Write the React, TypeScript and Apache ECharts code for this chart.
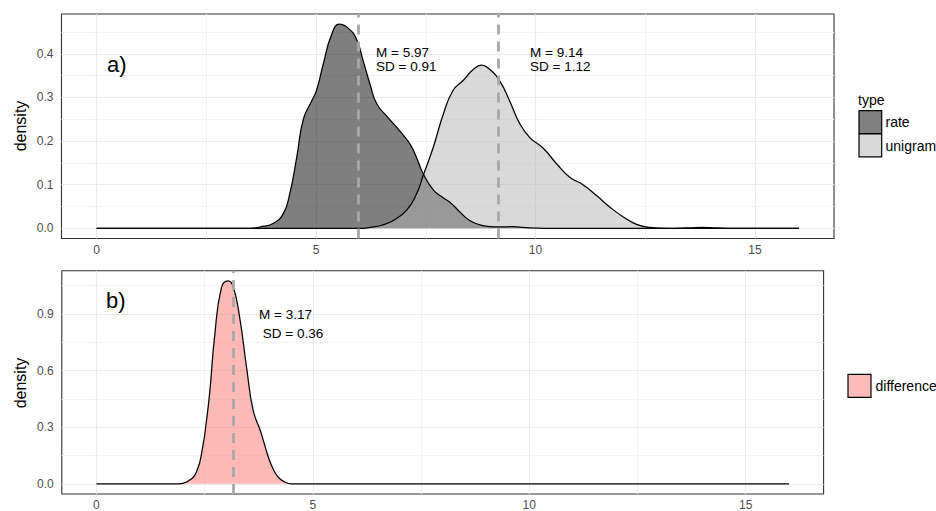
import React, { useEffect, useRef } from "react";
import * as echarts from "echarts";

const FONT = "'Liberation Sans', Arial, Helvetica, sans-serif";

// ---- data ----
const rateX = [0, 3.5, 3.72, 4.02, 4.25, 4.4, 4.56, 4.71, 4.9, 5.01, 5.16, 5.35, 5.53, 5.73, 5.92, 6.07, 6.23, 6.38, 6.61, 6.91, 7.14, 7.29, 7.44, 7.67, 7.88, 8.08, 8.28, 8.5, 8.73, 8.96, 9.2, 9.45, 9.7, 10.2, 16];
const rateY = [0, 0, 0.003, 0.011, 0.033, 0.079, 0.163, 0.25, 0.292, 0.316, 0.375, 0.443, 0.468, 0.459, 0.434, 0.385, 0.33, 0.286, 0.257, 0.223, 0.193, 0.162, 0.125, 0.088, 0.071, 0.057, 0.037, 0.018, 0.008, 0.004, 0.003, 0.004, 0.002, 0, 0];

const unigramX = [0, 6.0, 6.23, 6.5, 6.76, 7.06, 7.29, 7.44, 7.67, 7.9, 8.12, 8.35, 8.58, 8.77, 8.96, 9.19, 9.41, 9.64, 9.87, 10.17, 10.48, 10.78, 11.08, 11.39, 11.69, 12.0, 12.3, 12.6, 13.0, 13.5, 13.8, 14.1, 14.5, 16];
const unigramY = [0, 0, 0.002, 0.007, 0.018, 0.041, 0.079, 0.121, 0.186, 0.262, 0.316, 0.339, 0.364, 0.374, 0.364, 0.337, 0.292, 0.24, 0.208, 0.184, 0.148, 0.117, 0.1, 0.075, 0.049, 0.026, 0.009, 0.002, 0, 0.001, 0.002, 0.001, 0, 0];

const diffX = [0, 1.9, 2.08, 2.31, 2.46, 2.54, 2.62, 2.73, 2.89, 3.04, 3.16, 3.31, 3.47, 3.62, 3.79, 3.96, 4.08, 4.2, 4.35, 4.5, 16];
const diffY = [0, 0, 0.01, 0.063, 0.203, 0.33, 0.49, 0.78, 1.04, 1.075, 1.044, 0.88, 0.615, 0.39, 0.28, 0.15, 0.08, 0.035, 0.01, 0, 0];

const rateMean = 5.97;
const unigramMean = 9.14;
const diffMean = 3.17;

const xMajor = [0, 5, 10, 15];
const xMinor = [2.5, 7.5, 12.5];
const topYMajor = [0, 0.1, 0.2, 0.3, 0.4];
const topYMinor = [0.05, 0.15, 0.25, 0.35, 0.45];
const botYMajor = [0, 0.3, 0.6, 0.9];
const botYMinor = [0.15, 0.45, 0.75, 1.05];

const xRange = [-0.8, 16.8];
const topYRange = [-0.0234, 0.4914];
const botYRange = [-0.05375, 1.12875];

const zip = (xs: number[], ys: number[]) => xs.map((x, i) => [x, ys[i]]);

function gridLines(idx: number, xs: number[], ys: number[], color: string, width: number, z: number) {
  return {
    type: "line",
    xAxisIndex: idx,
    yAxisIndex: idx,
    data: [],
    silent: true,
    z,
    markLine: {
      silent: true,
      z,
      symbol: ["none", "none"],
      label: { show: false },
      emphasis: { disabled: true },
      animation: false,
      lineStyle: { color, width, type: "solid" },
      data: [...xs.map((v) => ({ xAxis: v })), ...ys.map((v) => ({ yAxis: v }))],
    },
  };
}

function densitySeries(idx: number, name: string, xs: number[], ys: number[], fill: string, mean: number) {
  return {
    type: "line",
    name,
    xAxisIndex: idx,
    yAxisIndex: idx,
    data: zip(xs, ys),
    smooth: 0.5,
    showSymbol: false,
    symbol: "none",
    z: 3,
    lineStyle: { color: "#000000", width: 1.25 },
    areaStyle: { color: fill, opacity: 1 },
    markLine: {
      silent: true,
      z: 6,
      symbol: ["none", "none"],
      label: { show: false },
      emphasis: { disabled: true },
      animation: false,
      lineStyle: { color: "#A8A8A8", width: 2.8, type: [10, 7] },
      data: [{ xAxis: mean }],
    },
  };
}

function xAxis(idx: number) {
  return {
    type: "value",
    gridIndex: idx,
    min: xRange[0],
    max: xRange[1],
    axisLine: { show: false },
    splitLine: { show: false },
    axisTick: { show: true, length: 3.5, lineStyle: { color: "#333333", width: 1 }, customValues: xMajor },
    axisLabel: { color: "#4D4D4D", fontSize: 12, fontFamily: FONT, margin: 5, customValues: xMajor, formatter: (v: number) => String(v) },
  };
}

function yAxis(idx: number, range: number[], ticks: number[]) {
  return {
    type: "value",
    gridIndex: idx,
    min: range[0],
    max: range[1],
    axisLine: { show: false },
    splitLine: { show: false },
    axisTick: { show: true, length: 3.5, lineStyle: { color: "#333333", width: 1 }, customValues: ticks },
    axisLabel: { color: "#4D4D4D", fontSize: 12, fontFamily: FONT, margin: 8, customValues: ticks, formatter: (v: number) => v.toFixed(1) },
  };
}

const txt = (text: string, x: number, y: number, size: number, extra: any = {}) => ({
  type: "text",
  x,
  y,
  silent: true,
  z: 100,
  style: { text, fill: "#000000", fontSize: size, fontFamily: FONT, align: "left", verticalAlign: "middle", ...extra },
});

const keyRect = (x: number, y: number, w: number, h: number, fill: string) => ({
  type: "rect",
  silent: true,
  z: 100,
  shape: { x, y, width: w, height: h },
  style: { fill, stroke: "#000000", lineWidth: 1.2 },
});

export default function App() {
  const ref = useRef<HTMLDivElement>(null);
  useEffect(() => {
    if (!ref.current) return;
    const chart = echarts.init(ref.current, undefined, { renderer: "svg" });
    const option: any = {
      animation: false,
      backgroundColor: "#FFFFFF",
      grid: [
        { left: 61.5, top: 14, width: 772.5, height: 224.5, show: true, borderColor: "#333333", borderWidth: 1.1, backgroundColor: "transparent", containLabel: false },
        { left: 61.8, top: 270.7, width: 761.8, height: 224.3, show: true, borderColor: "#333333", borderWidth: 1.1, backgroundColor: "transparent", containLabel: false },
      ],
      xAxis: [xAxis(0), xAxis(1)],
      yAxis: [yAxis(0, topYRange, topYMajor), yAxis(1, botYRange, botYMajor)],
      series: [
        gridLines(0, xMinor, topYMinor, "#F2F2F2", 1, 1),
        gridLines(0, xMajor, topYMajor, "#EBEBEB", 1.1, 2),
        gridLines(1, xMinor, botYMinor, "#F2F2F2", 1, 1),
        gridLines(1, xMajor, botYMajor, "#EBEBEB", 1.1, 2),
        densitySeries(0, "rate", rateX, rateY, "rgba(0,0,0,0.5)", rateMean),
        densitySeries(0, "unigram", unigramX, unigramY, "rgba(179,179,179,0.5)", unigramMean),
        densitySeries(1, "difference", diffX, diffY, "rgba(248,118,109,0.5)", diffMean),
      ],
      graphic: [
        txt("a)", 107, 64, 22),
        txt("b)", 106, 300, 22),
        txt("M = 5.97", 376, 52.5, 13.5),
        txt("SD = 0.91", 376, 66.2, 13.5),
        txt("M = 9.14", 530, 52.5, 13.5),
        txt("SD = 1.12", 530, 66.2, 13.5),
        txt("M = 3.17", 259, 314, 13.5),
        txt(" SD = 0.36", 259, 333, 13.5),
        { ...txt("density", 20, 126, 16, { align: "center" }), rotation: Math.PI / 2 },
        { ...txt("density", 20, 383, 16, { align: "center" }), rotation: Math.PI / 2 },
        txt("type", 858, 100, 14),
        keyRect(859, 110.7, 22.7, 22.8, "#808080"),
        keyRect(859, 134, 22.7, 22.8, "#D9D9D9"),
        txt("rate", 885.5, 122, 14),
        txt("unigram", 885.5, 146, 14),
        keyRect(848, 374.3, 23, 23, "#FBBBB6"),
        txt("difference", 875.5, 386, 14),
      ],
    };
    chart.setOption(option);
    return () => chart.dispose();
  }, []);
  return <div ref={ref} style={{ position: "fixed", left: 0, top: 0, width: 936, height: 511 }} />;
}
